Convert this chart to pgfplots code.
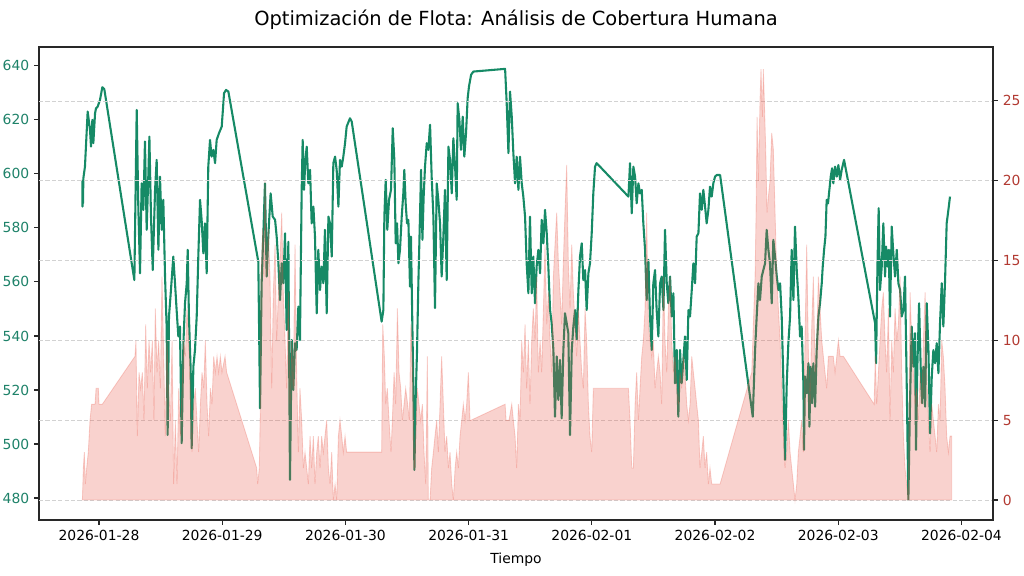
\documentclass[border=0pt]{standalone}
\usepackage{pgfplots}
\pgfplotsset{compat=1.18}
\usepackage{pgfplotstable}
\usepackage{fontspec}
\setmainfont{DejaVu Sans}

\definecolor{fleetgreen}{RGB}{22,138,102}
\definecolor{ticgreen}{RGB}{30,130,105}
\definecolor{humanred}{RGB}{231,76,60}
\definecolor{ticred}{RGB}{178,58,50}
\definecolor{spine}{RGB}{40,40,40}

% x = days since 2026-01-28 00:00
% Fleet availability (left axis)
\pgfplotstableread{
d v
-0.135 597.8
-0.134 587.9
-0.133 596.5
-0.130 589.1
-0.127 598.4
-0.114 602.7
-0.092 623.1
-0.073 616.3
-0.065 610.1
-0.054 620.0
-0.046 611.4
-0.032 622.5
-0.024 624.3
-0.011 624.9
0.008 627.4
0.027 632.1
0.043 631.4
0.287 560.7
0.306 623.7
0.319 587.9
0.333 563.2
0.346 596.5
0.360 586.7
0.373 612.0
0.387 579.3
0.400 599.0
0.409 613.8
0.422 584.2
0.436 564.4
0.455 594.1
0.468 605.2
0.482 571.9
0.495 599.0
0.509 579.3
0.522 590.4
0.536 562.0
0.549 543.5
0.557 503.3
0.568 547.2
0.584 557.0
0.603 569.4
0.617 559.5
0.630 549.6
0.644 539.8
0.657 543.5
0.671 500.3
0.685 537.3
0.698 552.1
0.712 559.5
0.720 571.9
0.730 547.2
0.744 527.4
0.752 498.4
0.766 528.7
0.779 534.8
0.793 547.2
0.806 569.4
0.820 590.4
0.833 583.0
0.847 570.6
0.860 581.7
0.874 563.2
0.887 602.7
0.901 612.6
0.914 606.4
0.928 608.9
0.942 604.0
0.955 612.6
0.974 615.1
0.996 617.5
1.015 629.9
1.031 631.1
1.050 630.5
1.293 567.5
1.307 513.2
1.320 559.5
1.334 578.0
1.347 596.5
1.361 562.0
1.374 576.8
1.393 592.8
1.410 584.2
1.429 583.0
1.442 576.8
1.456 566.9
1.469 553.3
1.483 566.9
1.496 559.5
1.510 578.0
1.523 542.2
1.537 574.9
1.550 486.7
1.564 538.5
1.577 520.0
1.591 537.3
1.604 534.8
1.618 550.9
1.631 538.5
1.645 594.1
1.653 612.6
1.664 594.1
1.675 605.2
1.686 610.1
1.699 596.5
1.713 601.5
1.726 581.7
1.740 587.9
1.753 576.8
1.767 548.4
1.780 571.9
1.794 557.0
1.807 565.7
1.821 559.5
1.834 579.3
1.848 548.4
1.862 584.2
1.875 581.7
1.889 569.4
1.902 604.0
1.916 606.4
1.929 601.5
1.943 587.9
1.956 605.2
1.970 602.7
1.983 606.4
1.997 611.4
2.010 617.5
2.037 620.6
2.051 619.4
2.294 545.3
2.308 549.6
2.316 584.2
2.327 597.8
2.340 579.3
2.354 590.4
2.370 594.1
2.384 616.9
2.397 605.2
2.408 574.3
2.419 581.7
2.430 566.9
2.443 571.9
2.457 584.2
2.470 592.8
2.478 601.5
2.489 589.1
2.500 581.7
2.511 583.0
2.524 558.3
2.532 576.8
2.543 544.7
2.551 522.5
2.560 490.4
2.570 516.3
2.581 534.2
2.592 559.5
2.600 574.3
2.614 601.5
2.625 575.6
2.635 591.6
2.646 602.7
2.660 611.4
2.673 608.9
2.687 618.2
2.700 599.0
2.714 584.2
2.727 550.3
2.741 596.5
2.754 590.4
2.768 581.7
2.781 562.0
2.795 576.8
2.808 594.1
2.822 560.7
2.836 610.1
2.849 605.2
2.863 592.8
2.876 613.2
2.890 602.7
2.903 590.4
2.911 626.2
2.925 620.0
2.938 608.9
2.952 621.2
2.965 606.4
2.979 615.1
2.992 628.0
3.003 632.4
3.020 636.7
3.038 637.9
3.296 638.9
3.309 626.2
3.323 607.7
3.336 630.5
3.350 621.2
3.363 607.7
3.377 596.5
3.390 606.4
3.404 594.1
3.417 606.4
3.431 596.5
3.444 591.6
3.458 584.2
3.471 566.9
3.485 555.8
3.498 584.2
3.512 555.8
3.525 569.4
3.539 552.1
3.552 565.7
3.566 571.9
3.580 563.2
3.593 583.0
3.607 574.3
3.620 586.7
3.634 578.0
3.647 565.7
3.661 549.6
3.674 544.7
3.688 534.8
3.701 510.1
3.715 532.4
3.728 516.3
3.742 531.1
3.755 509.5
3.769 534.8
3.782 548.4
3.796 544.7
3.809 541.0
3.823 503.3
3.837 534.8
3.850 543.5
3.864 549.6
3.877 538.5
3.891 557.0
3.904 569.4
3.918 574.3
3.931 560.7
3.945 564.4
3.958 549.6
3.972 563.2
3.985 566.9
3.999 578.0
4.012 592.8
4.026 602.7
4.039 604.0
4.297 591.6
4.310 604.0
4.324 585.4
4.337 602.7
4.351 599.0
4.364 589.1
4.378 596.5
4.391 592.8
4.405 594.1
4.418 581.7
4.432 571.9
4.445 553.3
4.459 568.2
4.472 547.2
4.486 534.8
4.499 559.5
4.513 564.4
4.526 549.6
4.540 539.8
4.554 559.5
4.567 562.0
4.581 549.6
4.594 579.3
4.608 559.5
4.621 552.1
4.635 562.0
4.648 547.2
4.662 555.8
4.675 522.5
4.689 534.8
4.702 510.1
4.716 534.8
4.729 522.5
4.743 531.1
4.756 539.8
4.770 523.7
4.784 549.6
4.797 547.2
4.811 557.0
4.824 566.9
4.838 559.5
4.851 576.8
4.865 578.0
4.878 592.8
4.892 586.7
4.905 594.1
4.919 587.9
4.932 581.7
4.946 586.7
4.959 595.3
4.973 591.6
4.986 596.5
5.000 599.0
5.014 599.6
5.041 599.6
5.306 510.1
5.325 534.8
5.338 547.2
5.352 559.5
5.365 553.3
5.379 562.0
5.392 564.4
5.406 566.9
5.419 579.3
5.433 571.9
5.446 566.9
5.460 552.1
5.473 575.6
5.487 569.4
5.501 562.0
5.514 557.0
5.528 559.5
5.541 547.2
5.555 522.5
5.568 494.1
5.582 522.5
5.595 537.3
5.609 547.2
5.622 571.9
5.636 553.3
5.649 580.5
5.663 564.4
5.676 554.6
5.690 539.8
5.703 543.5
5.717 522.5
5.722 497.8
5.730 525.0
5.744 518.8
5.758 529.9
5.766 506.4
5.776 528.6
5.787 515.1
5.798 529.9
5.812 513.8
5.825 534.8
5.839 547.2
5.852 552.1
5.866 559.5
5.874 565.7
5.885 571.9
5.896 576.8
5.906 590.4
5.917 589.1
5.928 594.1
5.939 599.0
5.950 602.1
5.960 596.5
5.974 602.7
5.988 599.0
6.001 603.3
6.015 597.8
6.028 601.5
6.047 605.2
6.299 544.7
6.307 529.9
6.318 565.7
6.328 587.3
6.339 557.0
6.353 565.7
6.366 581.7
6.380 562.0
6.388 573.1
6.399 565.7
6.410 571.9
6.420 547.2
6.434 580.5
6.447 570.6
6.461 562.0
6.475 571.9
6.488 559.5
6.502 557.0
6.515 547.2
6.529 549.6
6.542 562.0
6.556 521.2
6.569 479.3
6.583 516.3
6.596 543.5
6.610 528.6
6.623 541.0
6.631 497.8
6.642 528.6
6.656 552.1
6.669 528.6
6.680 515.1
6.691 528.6
6.705 513.8
6.718 552.1
6.732 534.8
6.745 503.9
6.759 525.0
6.772 534.8
6.786 529.9
6.799 537.3
6.813 526.2
6.826 544.7
6.840 559.5
6.853 543.5
6.867 560.7
6.880 581.7
6.894 586.7
6.907 591.6
}\fleettable

% Human coverage (right axis)
\pgfplotstableread{
d h
-0.135 0
-0.127 2
-0.119 3
-0.111 1
-0.100 2
-0.087 3
-0.073 5
-0.060 6
-0.032 6
-0.024 7
-0.005 7
0.000 6
0.027 6
0.292 9
0.300 10
0.311 4
0.325 8
0.338 7
0.352 8
0.365 5
0.379 11
0.392 7
0.406 10
0.419 8
0.433 10
0.446 5
0.457 12
0.471 8
0.484 10
0.498 7
0.511 14
0.525 9
0.538 4
0.552 10
0.565 7
0.579 5
0.593 10
0.606 1
0.620 5
0.633 1
0.647 7
0.660 4
0.674 7
0.687 10
0.701 9
0.714 12
0.728 10
0.741 7
0.755 3
0.768 6
0.782 7
0.795 5
0.809 3
0.823 6
0.836 8
0.850 7
0.863 10
0.877 6
0.890 4
0.904 7
0.917 6
0.931 9
0.944 8
0.958 9
0.971 8
0.985 9
0.998 8
1.023 9
1.036 8
1.280 2
1.288 1
1.301 2
1.310 6
1.315 14
1.329 17
1.339 14
1.347 20
1.361 14
1.374 17
1.388 14
1.402 7
1.415 13
1.429 16
1.442 10
1.456 13
1.469 15
1.483 18
1.496 13
1.510 10
1.523 7
1.537 13
1.550 6
1.564 10
1.577 7
1.591 16
1.604 8
1.618 3
1.631 7
1.645 5
1.659 2
1.672 3
1.686 2
1.699 1
1.713 4
1.726 2
1.740 4
1.753 1
1.767 3
1.780 4
1.794 2
1.807 4
1.821 3
1.834 4
1.848 5
1.862 2
1.875 1
1.889 3
1.902 0
1.916 1
1.929 0
1.943 4
1.956 5
1.970 4
1.983 3
1.997 4
2.010 3
2.294 3
2.303 11
2.316 9
2.327 6
2.340 7
2.354 5
2.370 3
2.381 5
2.395 8
2.408 6
2.422 12
2.435 8
2.449 7
2.462 5
2.476 6
2.489 7
2.505 6
2.519 5
2.532 11
2.546 8
2.560 2
2.570 4
2.584 7
2.597 6
2.611 5
2.625 6
2.638 3
2.652 1
2.665 9
2.673 0
2.687 0
2.700 2
2.714 3
2.727 4
2.741 5
2.754 3
2.768 6
2.781 9
2.795 6
2.808 3
2.822 4
2.836 2
2.849 3
2.863 1
2.876 0
2.890 2
2.903 3
2.917 2
2.930 4
2.944 5
2.957 6
2.971 5
2.984 6
2.998 8
3.011 5
3.020 5
3.296 6
3.304 5
3.328 5
3.350 6
3.363 5
3.377 4
3.390 2
3.404 6
3.417 5
3.431 10
3.444 8
3.458 11
3.471 7
3.485 10
3.498 6
3.512 10
3.525 12
3.539 10
3.552 14
3.566 8
3.580 10
3.593 8
3.607 12
3.620 16
3.634 11
3.647 13
3.661 10
3.674 8
3.688 14
3.701 16
3.715 18
3.728 15
3.742 13
3.755 11
3.769 15
3.782 18
3.796 21
3.809 15
3.823 12
3.837 16
3.850 13
3.864 11
3.877 9
3.891 12
3.904 10
3.918 8
3.931 7
3.945 12
3.958 10
3.972 6
3.985 4
3.999 3
4.012 7
4.297 7
4.310 5
4.324 2
4.337 2
4.351 6
4.364 8
4.378 5
4.391 7
4.405 9
4.418 10
4.432 12
4.445 18
4.459 11
4.472 10
4.486 9
4.499 10
4.513 7
4.526 8
4.540 9
4.554 8
4.567 6
4.581 14
4.594 10
4.608 8
4.621 12
4.635 14
4.648 10
4.662 8
4.675 9
4.689 7
4.702 6
4.716 8
4.729 7
4.743 9
4.756 8
4.770 6
4.784 5
4.797 6
4.811 9
4.824 8
4.838 7
4.851 6
4.865 5
4.878 2
4.892 3
4.905 4
4.919 2
4.932 3
4.946 1
4.959 2
4.973 1
5.041 1
5.298 8
5.311 11
5.325 14
5.333 18
5.341 24
5.352 20
5.365 25
5.373 27
5.384 24
5.392 27
5.400 25
5.411 22
5.422 18
5.433 19
5.446 20
5.460 23
5.473 22
5.487 18
5.501 14
5.514 12
5.528 10
5.541 7
5.555 4
5.568 2
5.582 3
5.595 5
5.609 3
5.622 2
5.636 1
5.649 0
5.663 1
5.676 3
5.690 4
5.703 5
5.717 3
5.730 10
5.744 16
5.758 9
5.771 6
5.785 11
5.798 14
5.812 8
5.825 10
5.839 14
5.852 12
5.866 10
5.879 9
5.906 7
5.920 9
5.960 9
5.974 8
5.988 9
6.001 10
6.015 9
6.042 9
6.291 6
6.301 9
6.312 6
6.326 8
6.339 10
6.353 12
6.366 13
6.380 10
6.393 8
6.407 12
6.420 5
6.434 10
6.447 8
6.461 12
6.475 10
6.488 11
6.502 14
6.515 8
6.529 4
6.542 2
6.556 1
6.569 0
6.583 13
6.596 10
6.610 8
6.623 6
6.637 7
6.650 5
6.664 8
6.677 6
6.691 10
6.705 13
6.718 8
6.732 5
6.745 3
6.759 6
6.772 5
6.786 4
6.799 3
6.813 6
6.826 5
6.840 10
6.853 9
6.867 7
6.880 4
6.894 3
6.907 4
6.921 4
}\humantable

\begin{document}
\begin{tikzpicture}
\path[use as bounding box] (0,0) rectangle (737.28pt,414.72pt);

\pgfplotsset{
  fleetbase/.style={
    at={(28.08pt,40.32pt)}, anchor=south west,
    scale only axis, width=686.88pt, height=340.56pt,
    xmin=-0.487, xmax=7.256,
    tick align=outside,
    major tick length=3.5pt,
    every tick/.style={spine, line width=0.8pt},
    axis line style={spine, line width=0.8pt},
    tick label style={font=\fontsize{10}{12}\selectfont},
    /pgf/number format/assume math mode=true,
    /pgf/number format/1000 sep={},
  },
}

\begin{axis}[
  fleetbase,
  ymin=471.85, ymax=647.0,
  xtick={0,1,2,3,4,5,6,7},
  xticklabels={2026-01-28,2026-01-29,2026-01-30,2026-01-31,2026-02-01,2026-02-02,2026-02-03,2026-02-04},
  xtick pos=bottom,
  ytick={480,500,520,540,560,580,600,620,640},
  ytick pos=left,
  yticklabel style={text=ticgreen},
  xlabel={Tiempo},
  xlabel style={font=\fontsize{10}{12}\selectfont, yshift=-2pt},
  title={Optimización de Flota: Análisis de Cobertura Humana},
  title style={font=\fontsize{14}{17}\selectfont, yshift=3pt},
]
\addplot[fleetgreen, line width=1.5pt, line join=round] table[x=d, y=v] {\fleettable};
\end{axis}

\begin{axis}[
  fleetbase,
  ymin=-1.253, ymax=28.38,
  axis x line=none,
  axis y line*=right,
  ytick={0,5,10,15,20,25},
  yticklabel style={text=ticred},
  ymajorgrids,
  grid style={gray!35, dash pattern=on 3pt off 1.6pt, line width=0.6pt},
]
\addplot[draw=humanred, draw opacity=0.25, line width=0.6pt, fill=humanred, fill opacity=0.25] table[x=d, y=h] {\humantable} \closedcycle;
\end{axis}
\end{tikzpicture}
\end{document}
